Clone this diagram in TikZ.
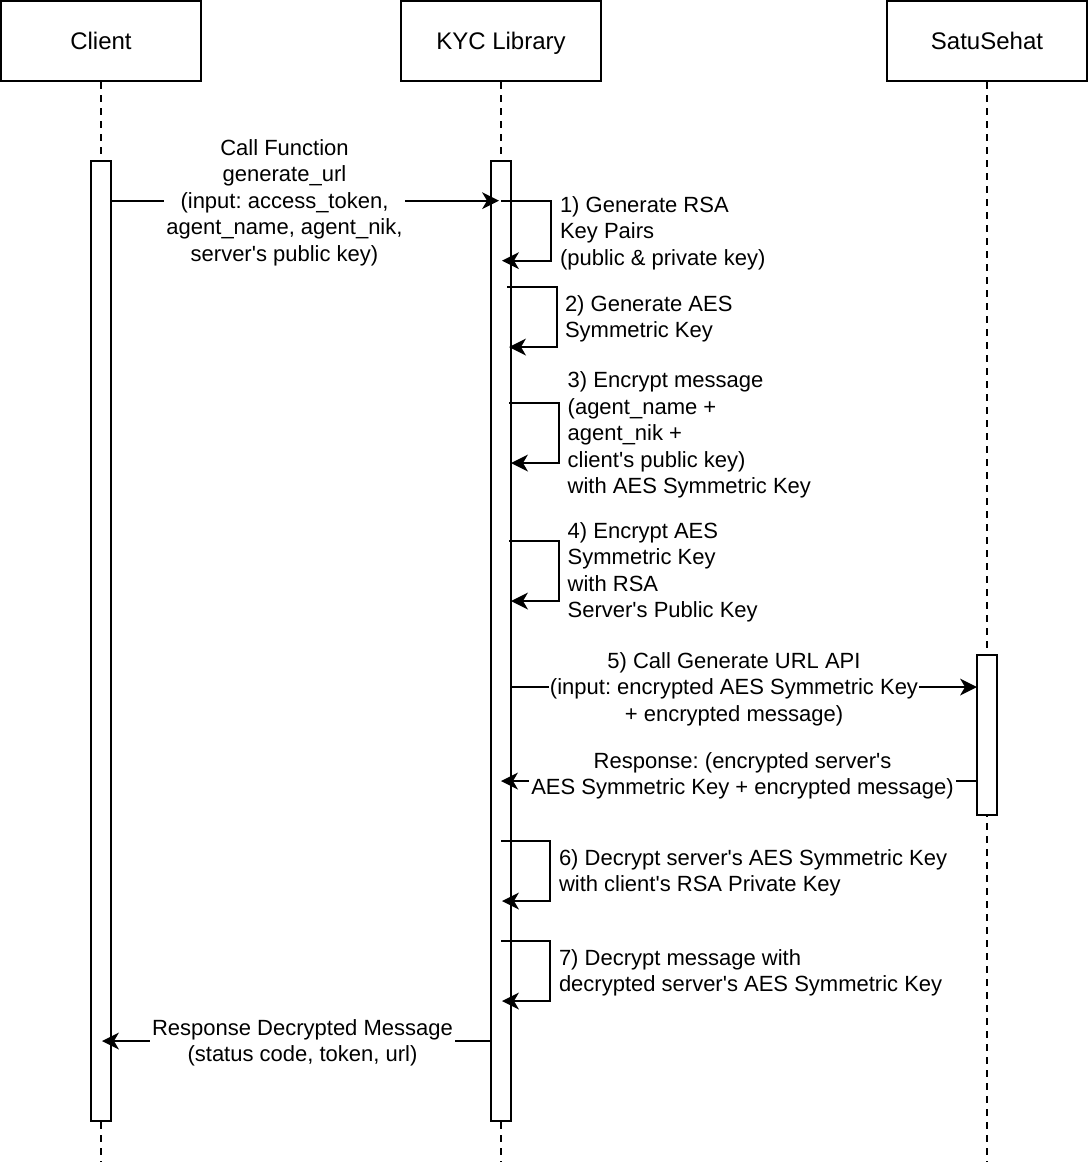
\documentclass[tikz,border=0pt]{standalone}
\usepackage{fontspec}
\setmainfont{Liberation Sans}
\newcommand{\aq}{\textquotesingle}
\begin{document}
\frenchspacing
\begin{tikzpicture}[x=1pt,y=-1pt,line width=2pt]
\tikzset{
 box/.style={draw, fill=white, minimum width=200pt, minimum height=80pt, inner sep=0pt, text height=17.2pt, text depth=0pt, font=\fontsize{24}{28.8}\selectfont},
 bar/.style={draw, fill=white, minimum width=20pt, inner sep=0pt},
 lifeline/.style={dash pattern=on 7pt off 6pt},
 msg/.style={shorten >=8pt},
 tipL/.pic={\fill (0,0) -- (17,-8.5) -- (12,0) -- (17,8.5) -- cycle;},
 tipR/.pic={\fill (0,0) -- (-17,-8.5) -- (-12,0) -- (-17,8.5) -- cycle;},
 lbl/.style={font=\fontsize{22}{26.4}\selectfont, inner sep=0pt, yshift=-2pt},
 bglbl/.style={lbl, fill=white, inner xsep=2pt, inner ysep=1pt, align=center},
 note/.style={lbl, anchor=west, align=left}
}
\useasboundingbox (0,0) rectangle (1088,1162);
% actors
\node[box] (client) at (101,41) {Client};
\node[box] (kyc) at (501,41) {KYC Library};
\node[box] (satu) at (987,41) {SatuSehat};
% lifeline ends
\coordinate (clientEnd) at (101,1162);
\coordinate (kycEnd) at (501,1162);
\coordinate (satuEnd) at (987,1162);
\draw[lifeline] (client.south) -- (clientEnd);
\draw[lifeline] (kyc.south) -- (kycEnd);
\draw[lifeline] (satu.south) -- (satuEnd);
% activation bars
\node[bar, minimum height=960pt] (ca) at (101,640.7) {};
\node[bar, minimum height=960pt] (ka) at (501,640.7) {};
\node[bar, minimum height=160pt] (sa) at (987,735) {};
% message 1
\coordinate (m1a) at (111,200.7);
\coordinate (m1b) at (499,200.7);
\draw[msg] (m1a) -- (m1b); \pic at (m1b) {tipR};
\node[bglbl] (l1) at (284.5,200.7) {Call Function\\generate\_url\\(input: access\_token,\\agent\_name, agent\_nik,\\server\aq s public key)};
% self loops
\coordinate (k1a) at (501,200.7); \coordinate (k1b) at (502,260.7);
\draw[msg] (k1a) -- ++(50,0) |- (k1b); \pic at (k1b) {tipL};
\node[note] (n1) at (559,231) {1) Generate RSA\\Key Pairs\\(public \& private key)};
\coordinate (k2a) at (507,287); \coordinate (k2b) at (509,347);
\draw[msg] (k2a) -- ++(50,0) |- (k2b); \pic at (k2b) {tipL};
\node[note] (n2) at (564,317) {2) Generate AES\\Symmetric Key};
\coordinate (k3a) at (509,403); \coordinate (k3b) at (511,463);
\draw[msg] (k3a) -- ++(50,0) |- (k3b); \pic at (k3b) {tipL};
\node[note] (n3) at (566.7,433) {3) Encrypt message\\(agent\_name +\\agent\_nik +\\client\aq s public key)\\with AES Symmetric Key};
\coordinate (k4a) at (509,541); \coordinate (k4b) at (511,601);
\draw[msg] (k4a) -- ++(50,0) |- (k4b); \pic at (k4b) {tipL};
\node[note] (n4) at (566.7,570.5) {4) Encrypt AES\\Symmetric Key\\with RSA\\Server\aq s Public Key};
% message 5
\coordinate (m5a) at (511,687);
\coordinate (m5b) at (977,687);
\draw[msg] (m5a) -- (m5b); \pic at (m5b) {tipR};
\node[bglbl, inner xsep=1pt] (l5) at (734,687) {5) Call Generate URL API\\(input: encrypted AES Symmetric Key\\+ encrypted message)};
% response
\coordinate (r1a) at (977,781);
\coordinate (r1b) at (501,781);
\draw[msg] (r1a) -- (r1b); \pic at (r1b) {tipL};
\node[bglbl] (lr) at (742.5,774) {Response: (encrypted server\aq s\\AES Symmetric Key + encrypted message)};
% loops 6, 7
\coordinate (k6a) at (501,841); \coordinate (k6b) at (502,901);
\draw[msg] (k6a) -- ++(49,0) |- (k6b); \pic at (k6b) {tipL};
\node[note] (n6) at (558,871) {6) Decrypt server\aq s AES Symmetric Key\\with client\aq s RSA Private Key};
\coordinate (k7a) at (501,941); \coordinate (k7b) at (502,1001);
\draw[msg] (k7a) -- ++(49,0) |- (k7b); \pic at (k7b) {tipL};
\node[note] (n7) at (558,971) {7) Decrypt message with\\decrypted server\aq s AES Symmetric Key};
% final response
\coordinate (fa) at (491,1041);
\coordinate (fb) at (102,1041);
\draw[msg] (fa) -- (fb); \pic at (fb) {tipL};
\node[bglbl] (lf) at (302.5,1041) {Response Decrypted Message\\(status code, token, url)};
\end{tikzpicture}
\end{document}
